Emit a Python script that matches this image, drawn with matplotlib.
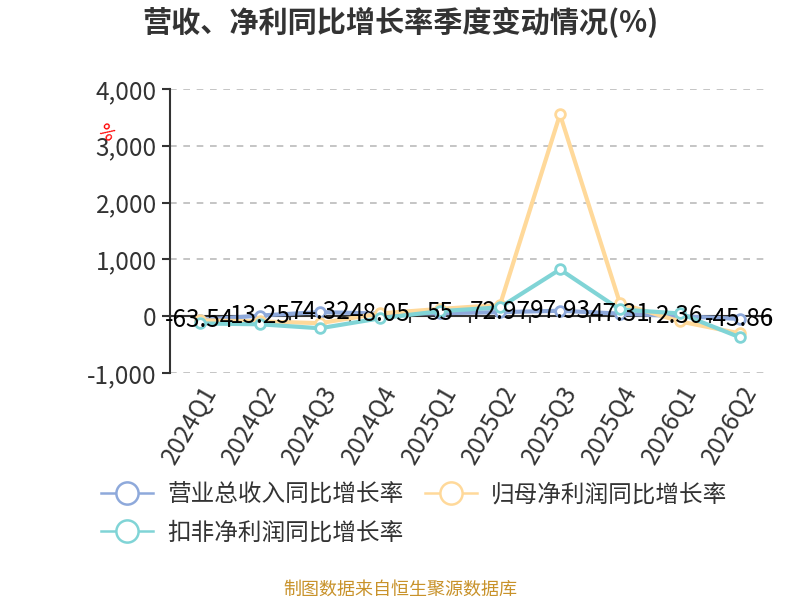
import matplotlib
matplotlib.use("Agg")
import matplotlib.pyplot as plt
import numpy as np
from matplotlib.lines import Line2D
from matplotlib.ticker import FuncFormatter

plt.rcParams['font.family'] = ['Noto Sans CJK SC', 'DejaVu Sans']
plt.rcParams['axes.unicode_minus'] = False

quarters = ['2024Q1', '2024Q2', '2024Q3', '2024Q4', '2025Q1',
            '2025Q2', '2025Q3', '2025Q4', '2026Q1', '2026Q2']
revenue = [-63.54, 13.25, 74.32, 48.05, 55, 72.97, 97.93, 47.31, 2.36, -45.86]
net_profit = [-70, -90, -120, 50, 130, 200, 3550, 228, -90, -300]
deducted = [-125, -140, -210, -35, 90, 158, 825, 120, 50, -370]

names = ['营业总收入同比增长率', '归母净利润同比增长率', '扣非净利润同比增长率']
colors = ['#8EA9DB', '#FFD99A', '#80D4D6']

fig = plt.figure(figsize=(8, 6), dpi=100)
ax = fig.add_axes([0.2125, 0.378, 0.75, 0.474])

x = np.arange(len(quarters))
for vals, c in zip([revenue, net_profit, deducted], colors):
    ax.plot(x, vals, color=c, lw=3, marker='o', ms=7, mfc='white',
            mec=c, mew=2, zorder=3)

for xi, v in zip(x, revenue):
    ax.text(xi, v, '{:g}'.format(v), ha='center', va='center',
            fontsize=17.5, color='black', zorder=5)

ax.set_xlim(-0.5, len(quarters) - 0.5)
ax.set_ylim(-1000, 4000)
ax.set_yticks([-1000, 0, 1000, 2000, 3000, 4000])
ax.yaxis.set_major_formatter(FuncFormatter(lambda v, p: '{:,.0f}'.format(v)))
ax.tick_params(axis='y', labelsize=17.5, labelcolor='#333333', length=6,
               width=1.5, color='#333333')
ax.set_xticks(x)
ax.set_xticklabels(quarters, rotation=60, ha='right', rotation_mode='anchor',
                   fontsize=17.5, color='#333333')
ax.tick_params(axis='x', length=0, pad=6)

for yv in [-1000, 1000, 2000, 3000, 4000]:
    ax.axhline(yv, color='#BBBBBB', ls=(0, (4, 4)), lw=1.2, zorder=1)
ax.axhline(0, color='#333333', lw=1.5, zorder=2)
bounds = np.arange(len(quarters) + 1) - 0.5
ax.vlines(bounds, -110, 0, color='#333333', lw=1.5, zorder=2)

for s in ['top', 'right', 'bottom']:
    ax.spines[s].set_visible(False)
ax.spines['left'].set_color('#333333')
ax.spines['left'].set_linewidth(1.5)

fig.text(0.132, 0.778, '%', color='red', fontsize=13, rotation=-45,
         ha='center', va='center', family='DejaVu Sans')

fig.text(0.5, 0.963, '营收、净利同比增长率季度变动情况(%)', ha='center',
         va='center', fontsize=21, fontweight='bold', color='#333333')

# legend is filled column-wise, so order: blue, teal | yellow
order = [0, 2, 1]
handles = [Line2D([], [], color=colors[i], lw=1.8, marker='o', ms=16,
                  mfc='white', mec=colors[i], mew=1.8) for i in order]
fig.legend(handles, [names[i] for i in order], loc='upper left',
           bbox_to_anchor=(0.1, 0.23), ncol=2, frameon=False,
           fontsize=17, handlelength=2.2, columnspacing=0.9,
           labelspacing=0.65, handletextpad=0.6, labelcolor='#333333')

fig.text(0.5, 0.017, '制图数据来自恒生聚源数据库', ha='center', va='center',
         fontsize=13, color='#C8922A')

fig.savefig('out.png', dpi=100)
